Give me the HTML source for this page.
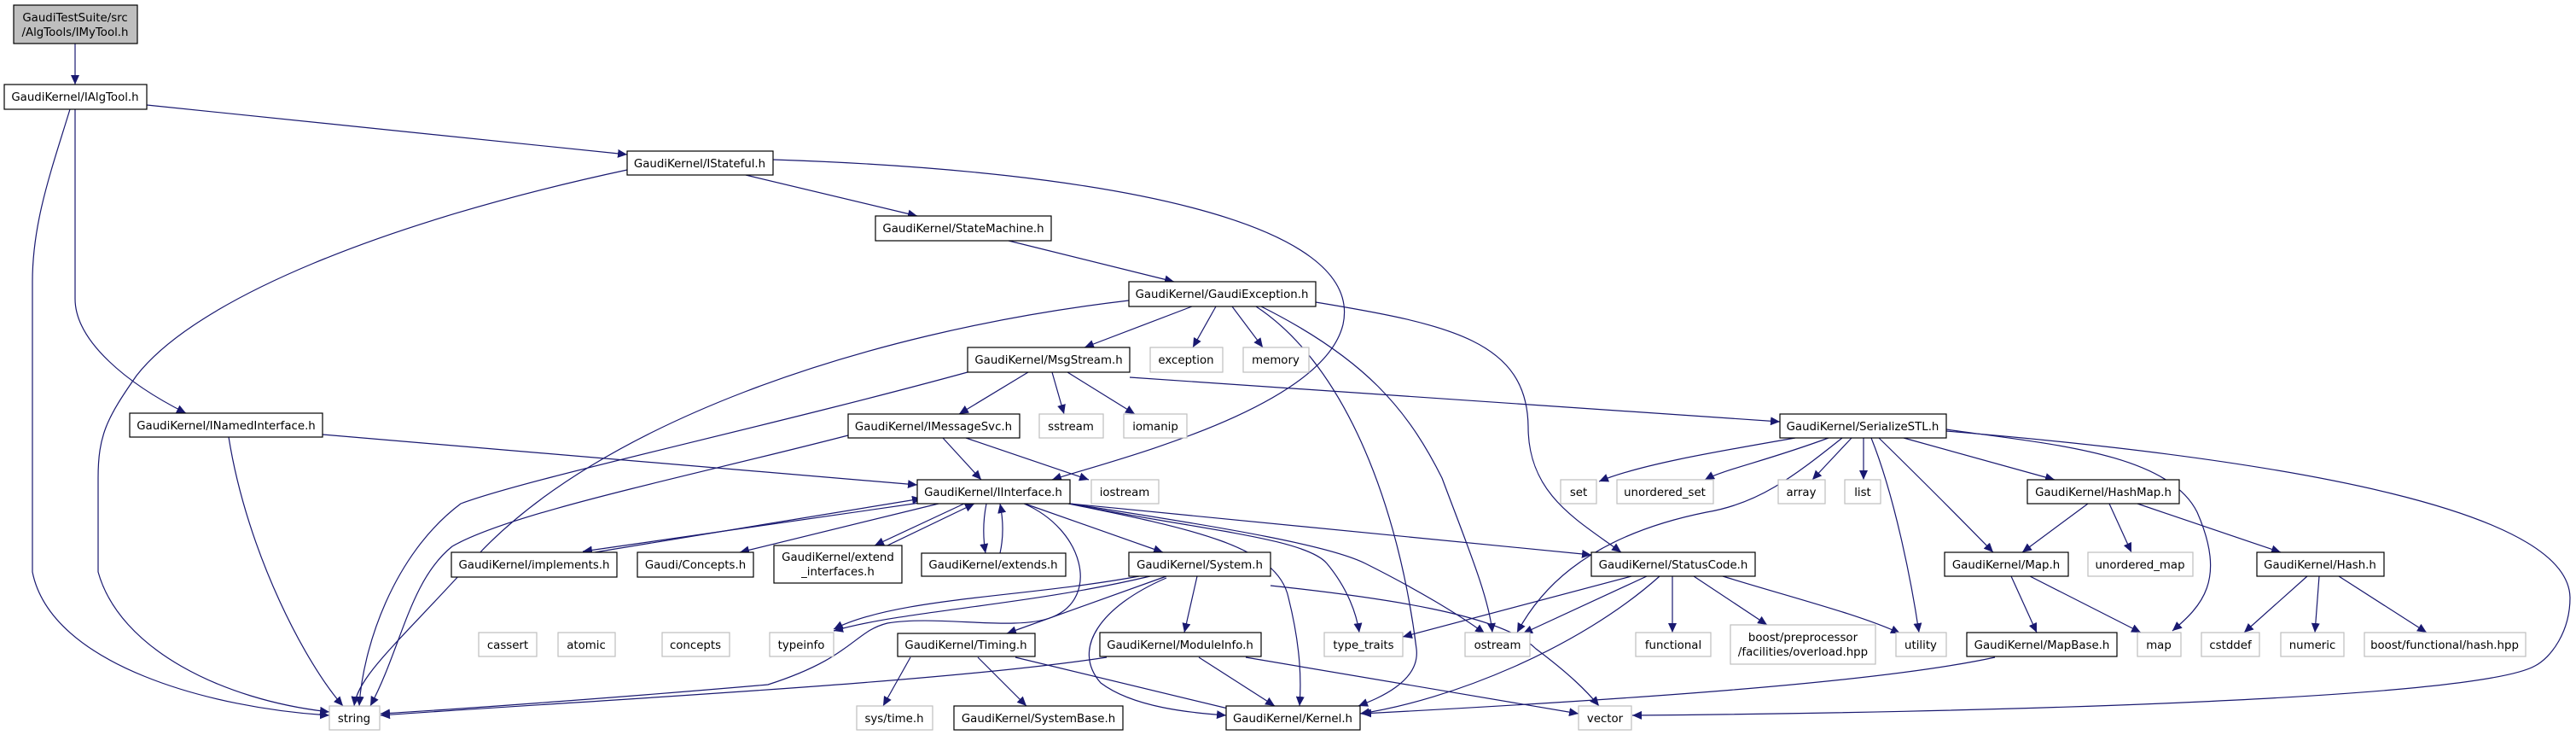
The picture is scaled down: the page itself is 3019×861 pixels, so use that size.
<!DOCTYPE html>
<html><head><meta charset="utf-8"><style>
html,body{margin:0;padding:0;background:#fff;}
svg{display:block;}
text{font-family:"DejaVu Sans","Liberation Sans",sans-serif;font-size:13.33px;fill:#000;text-anchor:middle;}
.n{fill:#fff;stroke:#000;stroke-width:1.2;}
.x{fill:#fff;stroke:#bfbfbf;stroke-width:1.2;}
.r{fill:#bfbfbf;stroke:#000;stroke-width:1.2;}
.e{fill:none;stroke:#191970;stroke-width:1.2;marker-end:url(#a);}
</style></head><body>
<svg width="3019" height="861" viewBox="0 0 3019 861" xmlns="http://www.w3.org/2000/svg">
<defs><marker id="a" markerUnits="userSpaceOnUse" markerWidth="12" markerHeight="10" refX="11" refY="5" orient="auto"><path d="M0,0 L11,5 L0,10 z" fill="#191970"/></marker></defs>
<g>
<path class="e" d="M88,51 L88,99"/>
<path class="e" d="M172,123 L735,181"/>
<path class="e" d="M82,128 C60,200 38,260 38,330 L38,670 C60,780 250,830 386,838"/>
<path class="e" d="M88,128 L88,350 C88,400 150,450 218,484"/>
<path class="e" d="M735,199 C450,260 230,350 160,440 C125,490 115,510 115,560 L115,670 C140,760 260,820 386,834"/>
<path class="e" d="M268,512 C290,650 360,780 402,827"/>
<path class="e" d="M874,205 L1075,253"/>
<path class="e" d="M906,187 C1300,200 1600,260 1574,380 C1550,480 1300,540 1233,562"/>
<path class="e" d="M1182,282 L1376,330"/>
<path class="e" d="M1323,352 C1000,390 700,500 560,650 C470,750 420,790 415,827"/>
<path class="e" d="M1134,436 C900,500 620,560 540,590 C460,650 425,760 421,827"/>
<path class="e" d="M994,510 C800,560 600,600 530,640 C480,680 470,760 434,827"/>
<path class="e" d="M1397,359 L1271,407"/>
<path class="e" d="M1425,359 L1398,407"/>
<path class="e" d="M1444,359 L1480,407"/>
<path class="e" d="M1472,359 C1580,430 1640,600 1660,760 C1665,800 1610,820 1592,827"/>
<path class="e" d="M1478,359 C1600,420 1650,480 1690,560 C1720,640 1745,700 1749,741"/>
<path class="e" d="M1542,354 C1700,380 1790,400 1791,500 C1791,580 1850,610 1900,647"/>
<path class="e" d="M1205,436 L1124,485"/>
<path class="e" d="M1233,436 L1247,485"/>
<path class="e" d="M1251,436 L1330,485"/>
<path class="e" d="M1324,442 L2086,494"/>
<path class="e" d="M1105,513 L1150,562"/>
<path class="e" d="M1132,513 L1276,562"/>
<path class="e" d="M378,509 L1075,568"/>
<path class="e" d="M1085,588 L683,646"/>
<path class="e" d="M697,647 L1080,584"/>
<path class="e" d="M1100,590 L867,647"/>
<path class="e" d="M1130,590 L1025,639"/>
<path class="e" d="M1040,639 L1142,590"/>
<path class="e" d="M1156,590 C1152,610 1152,630 1155,648"/>
<path class="e" d="M1172,648 C1176,630 1176,610 1172,590"/>
<path class="e" d="M1201,590 L1363,647"/>
<path class="e" d="M1200,590 C1270,620 1290,700 1233,723 C1190,740 1100,720 1040,730 C1000,740 1000,770 900,802 C750,815 550,830 446,836"/>
<path class="e" d="M1252,590 C1400,620 1497,640 1510,700 C1525,760 1525,800 1523,827"/>
<path class="e" d="M1254,590 C1400,620 1530,630 1555,660 C1580,690 1590,720 1593,741"/>
<path class="e" d="M1254,590 C1450,620 1560,640 1600,660 C1660,690 1710,720 1740,742"/>
<path class="e" d="M1254,590 L1865,650"/>
<path class="e" d="M1335,675 C1200,700 1050,700 977,737"/>
<path class="e" d="M1348,675 C1200,710 1060,715 977,739"/>
<path class="e" d="M1367,675 L1180,742"/>
<path class="e" d="M1403,675 L1388,741"/>
<path class="e" d="M1367,677 C1290,710 1255,760 1290,800 C1330,830 1400,835 1437,838"/>
<path class="e" d="M1489,686 C1620,700 1760,720 1800,760 C1840,790 1860,810 1874,827"/>
<path class="e" d="M1405,770 L1494,827"/>
<path class="e" d="M1460,770 L1850,836"/>
<path class="e" d="M1297,770 C1100,800 700,820 446,838"/>
<path class="e" d="M1067,770 L1035,827"/>
<path class="e" d="M1146,770 L1203,827"/>
<path class="e" d="M1190,770 L1460,835"/>
<path class="e" d="M1912,675 L1644,746"/>
<path class="e" d="M1930,675 L1785,742"/>
<path class="e" d="M1945,675 C1850,760 1700,820 1594,836"/>
<path class="e" d="M1960,675 L1960,741"/>
<path class="e" d="M1985,675 L2071,732"/>
<path class="e" d="M2019,675 C2100,700 2180,720 2227,742"/>
<path class="e" d="M2159,513 C2100,560 2060,590 2000,600 C1850,630 1800,700 1778,741"/>
<path class="e" d="M2104,513 C2000,531 1920,545 1874,564"/>
<path class="e" d="M2143,513 C2070,540 2020,550 1998,562"/>
<path class="e" d="M2170,513 L2124,562"/>
<path class="e" d="M2184,513 L2184,562"/>
<path class="e" d="M2193,513 C2220,580 2240,680 2249,741"/>
<path class="e" d="M2202,513 C2250,560 2300,610 2336,647"/>
<path class="e" d="M2231,513 L2408,562"/>
<path class="e" d="M2281,503 C2400,520 2540,530 2575,600 C2610,680 2580,710 2546,739"/>
<path class="e" d="M2281,505 C2700,540 3010,600 3012,700 C3012,740 2990,770 2971,780 C2900,820 2300,835 1913,838"/>
<path class="e" d="M2447,590 L2370,647"/>
<path class="e" d="M2472,590 L2498,647"/>
<path class="e" d="M2505,590 L2673,647"/>
<path class="e" d="M2357,675 L2387,741"/>
<path class="e" d="M2379,675 L2509,741"/>
<path class="e" d="M2704,675 L2630,741"/>
<path class="e" d="M2718,675 L2713,741"/>
<path class="e" d="M2741,675 L2844,741"/>
<path class="e" d="M2338,770 C2200,800 1900,820 1596,836"/>
</g>
<g>
<rect class="r" x="16" y="6" width="145" height="45"/><text x="88" y="25">GaudiTestSuite/src</text><text x="88" y="42">/AlgTools/IMyTool.h</text>
<rect class="n" x="5" y="99" width="167" height="29"/><text x="88" y="118">GaudiKernel/IAlgTool.h</text>
<rect class="n" x="735" y="177" width="171" height="28"/><text x="820" y="196">GaudiKernel/IStateful.h</text>
<rect class="n" x="1026" y="253" width="206" height="29"/><text x="1129" y="272">GaudiKernel/StateMachine.h</text>
<rect class="n" x="1323" y="330" width="219" height="29"/><text x="1432" y="349">GaudiKernel/GaudiException.h</text>
<rect class="n" x="1134" y="407" width="190" height="29"/><text x="1229" y="426">GaudiKernel/MsgStream.h</text>
<rect class="x" x="1348" y="407" width="85" height="29"/><text x="1390" y="426">exception</text>
<rect class="x" x="1457" y="407" width="77" height="29"/><text x="1495" y="426">memory</text>
<rect class="n" x="152" y="484" width="226" height="28"/><text x="265" y="503">GaudiKernel/INamedInterface.h</text>
<rect class="n" x="994" y="485" width="201" height="28"/><text x="1094" y="504">GaudiKernel/IMessageSvc.h</text>
<rect class="x" x="1218" y="485" width="75" height="28"/><text x="1255" y="504">sstream</text>
<rect class="x" x="1317" y="485" width="74" height="28"/><text x="1354" y="504">iomanip</text>
<rect class="n" x="2086" y="485" width="195" height="28"/><text x="2183" y="504">GaudiKernel/SerializeSTL.h</text>
<rect class="n" x="1075" y="562" width="179" height="28"/><text x="1164" y="581">GaudiKernel/IInterface.h</text>
<rect class="x" x="1279" y="562" width="79" height="28"/><text x="1318" y="581">iostream</text>
<rect class="x" x="1829" y="562" width="42" height="28"/><text x="1850" y="581">set</text>
<rect class="x" x="1895" y="562" width="113" height="28"/><text x="1951" y="581">unordered_set</text>
<rect class="x" x="2084" y="562" width="55" height="28"/><text x="2111" y="581">array</text>
<rect class="x" x="2162" y="562" width="42" height="28"/><text x="2183" y="581">list</text>
<rect class="n" x="2376" y="562" width="178" height="28"/><text x="2465" y="581">GaudiKernel/HashMap.h</text>
<rect class="n" x="529" y="647" width="194" height="29"/><text x="626" y="666">GaudiKernel/implements.h</text>
<rect class="n" x="747" y="647" width="136" height="29"/><text x="815" y="666">Gaudi/Concepts.h</text>
<rect class="n" x="907" y="639" width="150" height="44"/><text x="982" y="657">GaudiKernel/extend</text><text x="982" y="674">_interfaces.h</text>
<rect class="n" x="1080" y="648" width="169" height="27"/><text x="1164" y="666">GaudiKernel/extends.h</text>
<rect class="n" x="1323" y="647" width="166" height="28"/><text x="1406" y="666">GaudiKernel/System.h</text>
<rect class="n" x="1865" y="647" width="192" height="28"/><text x="1961" y="666">GaudiKernel/StatusCode.h</text>
<rect class="n" x="2279" y="647" width="145" height="28"/><text x="2351" y="666">GaudiKernel/Map.h</text>
<rect class="x" x="2447" y="647" width="123" height="28"/><text x="2508" y="666">unordered_map</text>
<rect class="n" x="2645" y="647" width="149" height="28"/><text x="2719" y="666">GaudiKernel/Hash.h</text>
<rect class="x" x="561" y="741" width="68" height="28"/><text x="595" y="760">cassert</text>
<rect class="x" x="654" y="741" width="67" height="28"/><text x="687" y="760">atomic</text>
<rect class="x" x="776" y="741" width="79" height="28"/><text x="815" y="760">concepts</text>
<rect class="x" x="902" y="741" width="75" height="28"/><text x="939" y="760">typeinfo</text>
<rect class="n" x="1052" y="742" width="161" height="27"/><text x="1132" y="760">GaudiKernel/Timing.h</text>
<rect class="n" x="1289" y="741" width="189" height="28"/><text x="1383" y="760">GaudiKernel/ModuleInfo.h</text>
<rect class="x" x="1552" y="741" width="92" height="28"/><text x="1598" y="760">type_traits</text>
<rect class="x" x="1717" y="741" width="76" height="28"/><text x="1755" y="760">ostream</text>
<rect class="x" x="1917" y="741" width="88" height="28"/><text x="1961" y="760">functional</text>
<rect class="x" x="2028" y="732" width="170" height="46"/><text x="2113" y="751">boost/preprocessor</text><text x="2113" y="768">/facilities/overload.hpp</text>
<rect class="x" x="2222" y="741" width="59" height="28"/><text x="2251" y="760">utility</text>
<rect class="n" x="2305" y="741" width="176" height="28"/><text x="2393" y="760">GaudiKernel/MapBase.h</text>
<rect class="x" x="2505" y="741" width="51" height="28"/><text x="2530" y="760">map</text>
<rect class="x" x="2580" y="741" width="68" height="28"/><text x="2614" y="760">cstddef</text>
<rect class="x" x="2673" y="741" width="74" height="28"/><text x="2710" y="760">numeric</text>
<rect class="x" x="2771" y="741" width="189" height="28"/><text x="2865" y="760">boost/functional/hash.hpp</text>
<rect class="x" x="386" y="827" width="59" height="28"/><text x="415" y="846">string</text>
<rect class="x" x="1004" y="827" width="89" height="28"/><text x="1048" y="846">sys/time.h</text>
<rect class="n" x="1118" y="827" width="198" height="28"/><text x="1217" y="846">GaudiKernel/SystemBase.h</text>
<rect class="n" x="1437" y="827" width="157" height="28"/><text x="1515" y="846">GaudiKernel/Kernel.h</text>
<rect class="x" x="1850" y="827" width="62" height="28"/><text x="1881" y="846">vector</text>
</g>
</svg>
</body></html>
